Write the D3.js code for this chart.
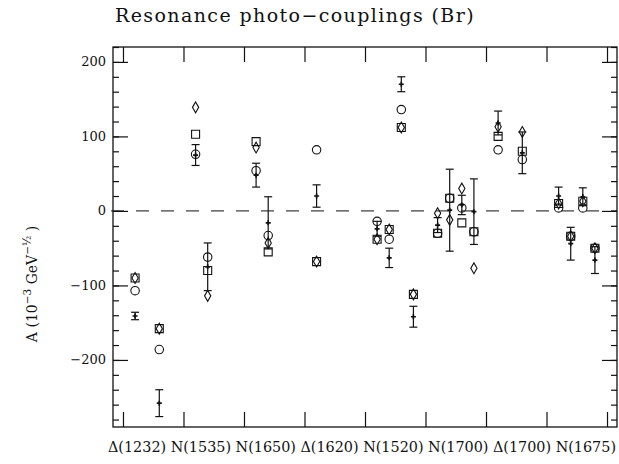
<!DOCTYPE html>
<html>
<head>
<meta charset="utf-8">
<script src="https://cdn.jsdelivr.net/npm/d3@7/dist/d3.min.js"></script>
<style>
  body { margin: 0; background: #fff; }
  text { font-family: "DejaVu Serif", serif; fill: #111; }
</style>
</head>
<body>
<svg id="chart" width="619" height="464"></svg>
<script>
var categories = ["Δ(1232)", "N(1535)", "N(1650)", "Δ(1620)", "N(1520)", "N(1700)", "Δ(1700)", "N(1675)"];

// one entry per measured amplitude: resonance index and sub-slot inside it
var colCat  = [0, 0, 1, 1, 2, 2, 3, 4, 4, 4, 4, 5, 5, 5, 5, 6, 6, 7, 7, 7, 7];
var colSlot = [1, 3, 1, 2, 1, 2, 1, 1, 2, 3, 4, 1, 2, 3, 4, 1, 3, 1, 2, 3, 4];

// experimental values with errors
var expVal = [-141, -258, 75, -75, 48, -16, 20, -24, -63, 170, -142, -19, 1, 8, -1, 118, 78, 20, -44, 19, -66];
var expErr = [5, 18, 14, 32, 16, 35, 15, 10, 13, 10, 14, 10, 55, 13, 44, 16, 28, 12, 22, 12, 18];

// model predictions
var circleVal  = [-107, -186, 76, -62, 54, -33, 82, -14, -38, 136, null, -30, 17, 4, -28, 82, 69, 4, -34, 4, -50];
var squareVal  = [-90, -158, 103, -80, 93, -55, -68, -38, -25, 112, -112, -30, 17, -16, -28, 100, 80, 10, -34, 13, -50];
var diamondVal = [-90, -158, 139, -114, 85, -43, -68, -38, -25, 112, -112, -3, -12, 30, -77, 113, 106, 10, -34, 13, -50];

var yTicks = [-200, -100, 0, 100, 200];

var svg = d3.select("#chart"),
    mLeft = 113, mRight = 617, mTop = 47, mBottom = 427;

var x = d3.scaleLinear().domain([-0.165, 8.165]).range([mLeft, mRight]);
var y = d3.scaleLinear().domain([-290, 220]).range([mBottom, mTop]);

var cols = colCat.map(function(c, i) {
    return { x: c + colSlot[i] / 5, v: expVal[i], e: expErr[i],
             c: circleVal[i], s: squareVal[i], d: diamondVal[i] };
});

// title
svg.append("text")
    .attr("x", 295).attr("y", 22)
    .attr("text-anchor", "middle")
    .style("font-size", "19px")
    .style("letter-spacing", "1.4px")
    .text("Resonance photo−couplings (Br)");

// frame
svg.append("rect")
    .attr("x", mLeft).attr("y", mTop)
    .attr("width", mRight - mLeft).attr("height", mBottom - mTop)
    .attr("fill", "none").attr("stroke", "#111").attr("stroke-width", 1.3);

// y axes (left and right), major + minor ticks
var minor = d3.range(-280, 221, 20);
svg.append("g").attr("transform", "translate(" + mLeft + ",0)")
    .call(d3.axisRight(y).tickValues(minor).tickSize(6).tickFormat(""));
svg.append("g").attr("transform", "translate(" + mRight + ",0)")
    .call(d3.axisLeft(y).tickValues(minor).tickSize(6).tickFormat(""));
svg.append("g").attr("transform", "translate(" + mLeft + ",0)")
    .call(d3.axisRight(y).tickValues(yTicks).tickSize(15).tickFormat(""));
svg.append("g").attr("transform", "translate(" + mRight + ",0)")
    .call(d3.axisLeft(y).tickValues(yTicks).tickSize(15).tickFormat(""));

// x ticks at resonance boundaries, top and bottom
var bounds = d3.range(0, categories.length + 1);
svg.append("g").attr("transform", "translate(0," + mBottom + ")")
    .call(d3.axisTop(x).tickValues(bounds).tickSize(15).tickFormat(""));
svg.append("g").attr("transform", "translate(0," + mTop + ")")
    .call(d3.axisBottom(x).tickValues(bounds).tickSize(15).tickFormat(""));

svg.selectAll(".domain").remove();
svg.selectAll(".tick line").attr("stroke", "#111").attr("stroke-width", 1.2);

// tick labels
svg.append("g").selectAll("text")
    .data(yTicks)
    .enter().append("text")
    .attr("x", 106)
    .attr("y", function(d) { return y(d); })
    .attr("dy", "0.35em")
    .attr("text-anchor", "end")
    .style("font-size", "13px")
    .text(function(d) { return d < 0 ? "−" + Math.abs(d) : d; });

// resonance names, typed as one line under the frame like the original
svg.append("text")
    .attr("x", 108)
    .attr("y", 452)
    .attr("textLength", 508)
    .attr("lengthAdjust", "spacingAndGlyphs")
    .style("font-size", "14.2px")
    .text(categories.join(" "));

// y label
var yl = svg.append("text")
    .attr("transform", "translate(37,284) rotate(-90)")
    .attr("text-anchor", "middle")
    .style("font-size", "14px");
yl.append("tspan").text("A (10");
yl.append("tspan").attr("dy", -6).style("font-size", "10.5px").text("−3");
yl.append("tspan").attr("dy", 6).text("  GeV");
yl.append("tspan").attr("dy", -6).style("font-size", "10.5px").text("−½");
yl.append("tspan").attr("dy", 6).text(" )");

// zero line
svg.append("line")
    .attr("x1", 111).attr("x2", mRight)
    .attr("y1", y(0)).attr("y2", y(0))
    .attr("stroke", "#111").attr("stroke-width", 1)
    .attr("stroke-dasharray", "13,12");

// error bars
var eb = svg.append("g").attr("stroke", "#111").attr("stroke-width", 1.2)
    .selectAll("g").data(cols).enter().append("g");
eb.append("line")
    .attr("x1", function(d) { return x(d.x); }).attr("x2", function(d) { return x(d.x); })
    .attr("y1", function(d) { return y(d.v - d.e); }).attr("y2", function(d) { return y(d.v + d.e); });
eb.append("line")
    .attr("x1", function(d) { return x(d.x) - 4; }).attr("x2", function(d) { return x(d.x) + 4; })
    .attr("y1", function(d) { return y(d.v - d.e); }).attr("y2", function(d) { return y(d.v - d.e); });
eb.append("line")
    .attr("x1", function(d) { return x(d.x) - 4; }).attr("x2", function(d) { return x(d.x) + 4; })
    .attr("y1", function(d) { return y(d.v + d.e); }).attr("y2", function(d) { return y(d.v + d.e); });
svg.append("g").selectAll("path")
    .data(cols).enter().append("path")
    .attr("d", d3.symbol().type(d3.symbolCross).size(14))
    .attr("transform", function(d) { return "translate(" + x(d.x) + "," + y(d.v) + ")"; })
    .attr("fill", "#111");

// model markers
function markers(key, type, size) {
    svg.append("g").selectAll("path")
        .data(cols.filter(function(d) { return d[key] != null; }))
        .enter().append("path")
        .attr("d", d3.symbol().type(type).size(size))
        .attr("transform", function(d) { return "translate(" + x(d.x) + "," + y(d[key]) + ")"; })
        .attr("fill", "none")
        .attr("stroke", "#111")
        .attr("stroke-width", 1.1);
}
markers("s", d3.symbolSquare, 64);
markers("c", d3.symbolCircle, 56);
markers("d", d3.symbolDiamond, 34);
</script>
</body>
</html>
